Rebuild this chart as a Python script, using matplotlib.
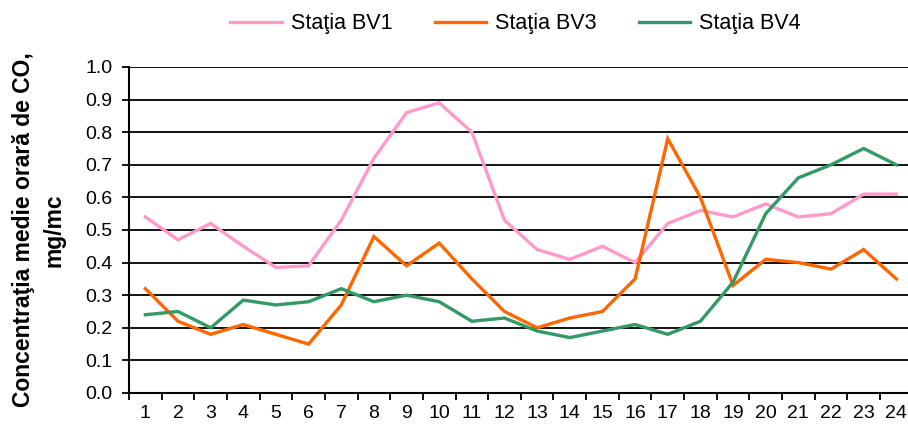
import numpy as np
import matplotlib
matplotlib.use("Agg")
from matplotlib import pyplot as plt
from matplotlib.ticker import FixedLocator, MultipleLocator

# Hours of the day
hours = np.arange(1, 25)

# Mean hourly CO concentration, mg/mc
bv1 = [0.54, 0.47, 0.52, 0.45, 0.385, 0.39, 0.53, 0.72, 0.86, 0.89, 0.80, 0.53,
       0.44, 0.41, 0.45, 0.40, 0.52, 0.56, 0.54, 0.58, 0.54, 0.55, 0.61, 0.61]
bv3 = [0.32, 0.22, 0.18, 0.21, 0.18, 0.15, 0.27, 0.48, 0.39, 0.46, 0.35, 0.25,
       0.20, 0.23, 0.25, 0.35, 0.78, 0.60, 0.33, 0.41, 0.40, 0.38, 0.44, 0.35]
bv4 = [0.24, 0.25, 0.20, 0.285, 0.27, 0.28, 0.32, 0.28, 0.30, 0.28, 0.22, 0.23,
       0.19, 0.17, 0.19, 0.21, 0.18, 0.22, 0.34, 0.55, 0.66, 0.70, 0.75, 0.70]

series_labels = ["Staţia BV1", "Staţia BV3", "Staţia BV4"]
colors = ["#FF99CC", "#FF6600", "#339966"]

plt.rcParams["font.family"] = ["Liberation Sans", "DejaVu Sans"]

fig = plt.figure(figsize=(9.08, 4.33), dpi=100)
ax = fig.add_axes([0.1421, 0.0924, 0.863, 0.7529])

for vals, lab, col in zip([bv1, bv3, bv4], series_labels, colors):
    ax.plot(hours, vals, color=col, lw=2.4, label=lab, solid_joinstyle="miter")

ax.set_xlim(0.5, 24.5)
ax.set_ylim(0, 1.0)
ax.yaxis.set_major_locator(MultipleLocator(0.1))
ax.yaxis.set_major_formatter(matplotlib.ticker.FormatStrFormatter("%.1f"))
ax.set_xticks(hours)
ax.xaxis.set_minor_locator(FixedLocator(np.arange(0.5, 25, 1)))
ax.tick_params(axis="x", which="major", length=0, pad=9, labelsize=14)
ax.tick_params(axis="x", which="minor", length=5, width=1.3, direction="out")
ax.tick_params(axis="y", length=5, width=1.3, direction="out", pad=7, labelsize=14)

ax.grid(axis="y", color="black", lw=1.3)
ax.set_axisbelow(True)
for s in ["top", "right"]:
    ax.spines[s].set_visible(False)
for s in ["left", "bottom"]:
    ax.spines[s].set_linewidth(1.5)
    ax.spines[s].set_zorder(3)

ax.set_ylabel("Concentraţia medie orară de CO,\nmg/mc", fontsize=16.5,
              fontweight="bold", linespacing=1.4, labelpad=14)

fig.legend(loc="center", bbox_to_anchor=(0.568, 0.945), ncol=3, frameon=False,
           fontsize=15.5, handlelength=2.4, handletextpad=0.42, columnspacing=1.95)

fig.savefig("out.png", dpi=100)
